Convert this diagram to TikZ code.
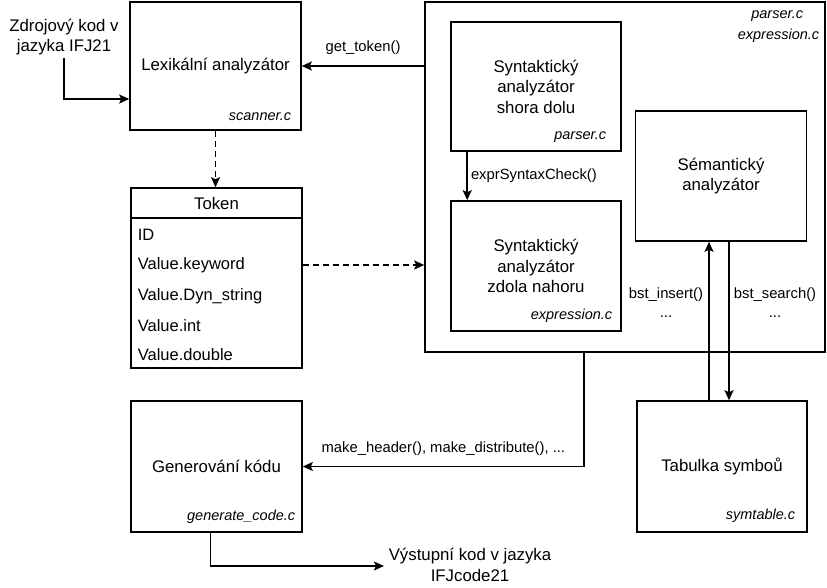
\documentclass[tikz,border=0pt]{standalone}
\usepackage{fontspec}
\setmainfont{Liberation Sans}
\usetikzlibrary{arrows.meta, positioning, calc}

\begin{document}
\begin{tikzpicture}[x=1pt, y=-1pt, line width=1.6pt,
    box/.style={draw, rectangle, inner sep=0pt, align=center, font=\fontsize{16.8}{20.5}\selectfont},
    txt/.style={inner sep=2pt, align=center, font=\fontsize{16.8}{20.5}\selectfont},
    file/.style={anchor=east, inner sep=0pt, font=\fontsize{14.5}{17}\selectfont\itshape},
    lbl/.style={inner sep=0pt, align=center, font=\fontsize{14.8}{17}\selectfont},
    row/.style={anchor=west, inner sep=0pt, font=\fontsize{16.5}{20.5}\selectfont},
    arr/.style={-{Stealth[length=10pt, width=9pt, inset=2pt]}},
    dasharr/.style={arr, dash pattern=on 6pt off 4pt}]
  \useasboundingbox (0,0) rectangle (827,587);

  % outer parser block
  \node[box, minimum width=400pt, minimum height=350pt] (parser) at (625,177) {};
  \node[file] at (804,16) {parser.c};
  \node[file] at (820,36) {expression.c};

  \node[box, minimum width=170pt, minimum height=129pt] (topdown) at (536,86.5) {Syntaktický\\analyzátor\\shora dolu};
  \node[file] at (607,137) {parser.c};
  \node[box, minimum width=170pt, minimum height=130pt] (bottomup) at (536,266) {Syntaktický\\analyzátor\\zdola nahoru};
  \node[file] at (613,316) {expression.c};
  \node[box, minimum width=171pt, minimum height=130pt] (semantic) at (721,176) {Sémantický\\analyzátor};

  % lexer and token
  \node[box, minimum width=171pt, minimum height=128pt] (lexer) at (215.5,66) {Lexikální analyzátor};
  \node[file] at (292,117) {scanner.c};
  \node[txt] (src) at (64,37) {Zdrojový kod v\\jazyka IFJ21};

  \node[box, minimum width=171pt, minimum height=30pt] (toktitle) at (216.5,203) {Token};
  \node[box, minimum width=171pt, minimum height=150pt] (tokbody) at (216.5,293) {};
  \node[row] (id) at (137,235) {ID};
  \node[row] (kw) at (137,265) {Value.keyword};
  \node[row] (dyn) at (137,296) {Value.Dyn\_string};
  \node[row] (int) at (137,326) {Value.int};
  \node[row] (dbl) at (137,355) {Value.double};

  % bottom row
  \node[box, minimum width=171pt, minimum height=131pt] (gencode) at (216.5,466.5) {Generování kódu};
  \node[file] at (296,517) {generate\_code.c};
  \node[box, minimum width=170pt, minimum height=131pt] (symtab) at (722,466.5) {Tabulka symboů};
  \node[file] at (796,516) {symtable.c};
  \node[txt, inner sep=4pt] (out) at (470,565) {Výstupní kod v jazyka\\IFJcode21};

  % connectors
  \draw[arr] (src.south) |- ($(lexer.west)+(0,33)$);
  \draw[arr] (parser.west |- lexer.east) -- (lexer.east) node[lbl, midway, above=11pt] {get\_token()};
  \draw[dasharr] (lexer.south) -- (lexer.south |- toktitle.north);
  \draw[dasharr] (kw.east -| tokbody.east) -- (kw.east -| parser.west);
  \draw[arr] ($(topdown.south west)+(17,0)$) -- ($(bottomup.north west)+(17,0)$)
    node[lbl, midway, right=3pt] {exprSyntaxCheck()};
  \draw[arr] ($(symtab.north)+(-13,0)$) -- ($(semantic.south)+(-12,0)$);
  \draw[arr] ($(semantic.south)+(8,0)$) -- ($(symtab.north)+(7,0)$);
  \node[lbl] at (666,295) {bst\_insert()};
  \node[lbl] at (666,317) {...};
  \node[lbl] at (775,295) {bst\_search()};
  \node[lbl] at (775,317) {...};
  \draw[arr] ($(parser.south)+(-41,0)$) |- (gencode.east) node[lbl, pos=0.75, above=10pt] {make\_header(), make\_distribute(), ...};
  \draw[arr] ($(gencode.south)+(-6,0)$) |- ($(out.west)+(0,1)$);
\end{tikzpicture}
\end{document}
